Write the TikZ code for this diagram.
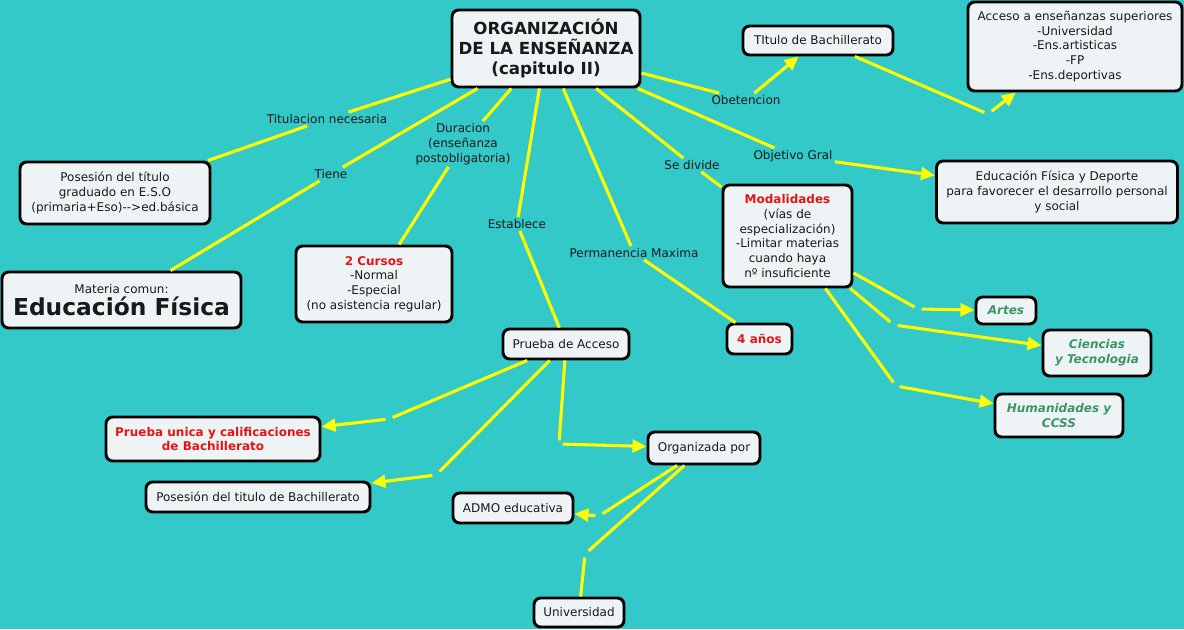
\documentclass[tikz,border=0pt]{standalone}
\usepackage{fontspec}
\setmainfont{DejaVu Sans}
\usetikzlibrary{arrows.meta}
\definecolor{bg}{RGB}{51,201,201}
\definecolor{boxfill}{RGB}{238,244,245}
\definecolor{lnk}{RGB}{255,255,0}
\definecolor{redt}{RGB}{228,20,20}
\definecolor{greent}{RGB}{58,150,100}
\definecolor{txt}{RGB}{25,25,25}
\begin{document}
\begin{tikzpicture}[x=0.75pt,y=-0.75pt,
 box/.style={draw=black, line width=2.2pt, rounded corners=5pt, fill=boxfill, align=center, inner sep=0pt, text=txt, font=\fontsize{9}{11.1}\selectfont},
 wh/.style 2 args={minimum width=#1*0.75pt, minimum height=#2*0.75pt},
 lbl/.style={align=center, inner sep=1.5pt, text=txt, font=\fontsize{9}{11.1}\selectfont},
 jn/.style={inner sep=0pt, minimum size=5pt},
 con/.style={draw=lnk, line width=2.3pt},
 arr/.style={con, -{Triangle[length=10.5pt,width=9.5pt]}},
]
\fill[bg] (0,0) rectangle (1184,629);
\useasboundingbox (0,0) rectangle (1184,629);

% boxes
\node[box, wh={188}{77}, font=\fontsize{12.5}{15}\selectfont\bfseries] (main) at (546,48.5) {ORGANIZACIÓN\\DE LA ENSEÑANZA\\(capitulo II)};
\node[box, wh={150}{29}] (tit) at (818,40.5) {TItulo de Bachillerato};
\node[box, wh={214}{89}] (acc) at (1075,46.5) {Acceso a enseñanzas superiores\\-Universidad\\-Ens.artisticas\\-FP\\-Ens.deportivas};
\node[box, wh={241}{62}] (ef) at (1057,192) {Educación Física y Deporte\\para favorecer el desarrollo personal\\y social};
\node[box, wh={190}{62}] (pos) at (115,193) {Posesión del título\\graduado en E.S.O\\(primaria+Eso){-}{-}>ed.básica};
\node[box, wh={239}{56}] (mat) at (121.5,300) {Materia comun:\\[1.5pt]{\fontsize{17.5}{19}\selectfont\bfseries Educación Física}};
\node[box, wh={156}{76}] (cur) at (374,284) {\textcolor{redt}{\bfseries 2 Cursos}\\-Normal\\-Especial\\(no asistencia regular)};
\node[box, wh={129}{102}] (mod) at (787.5,236) {\textcolor{redt}{\bfseries Modalidades}\\(vías de\\especialización)\\-Limitar materias\\cuando haya\\nº insuficiente};
\node[box, wh={126}{30}] (pru) at (566,344) {Prueba de Acceso};
\node[box, wh={65}{30}] (anos) at (759.5,339) {\textcolor{redt}{\bfseries 4 años}};
\node[box, wh={60}{27}] (artes) at (1006,310.5) {\textcolor{greent}{\bfseries\itshape Artes}};
\node[box, wh={108}{46}] (cien) at (1097,353) {\textcolor{greent}{\bfseries\itshape Ciencias}\\\textcolor{greent}{\bfseries\itshape y Tecnologia}};
\node[box, wh={128}{43}] (hum) at (1059,415.5) {\textcolor{greent}{\bfseries\itshape Humanidades y}\\\textcolor{greent}{\bfseries\itshape CCSS}};
\node[box, wh={214}{44}] (pun) at (213,439) {\textcolor{redt}{\bfseries Prueba unica y calificaciones}\\\textcolor{redt}{\bfseries de Bachillerato}};
\node[box, wh={224}{30}] (pbach) at (258,497) {Posesión del titulo de Bachillerato};
\node[box, wh={120}{30}] (admo) at (513,508) {ADMO educativa};
\node[box, wh={112}{32}] (org) at (704,448) {Organizada por};
\node[box, wh={90}{29}] (univ) at (579,612.5) {Universidad};

% linking labels
\node[lbl] (ltit) at (327,119) {Titulacion necesaria};
\node[lbl] (ltie) at (331,174) {Tiene};
\node[lbl] (ldur) at (463,144) {Duracion\\(enseñanza\\postobligatoria)};
\node[lbl] (lest) at (517,224) {Establece};
\node[lbl] (lper) at (634,253) {Permanencia Maxima};
\node[lbl] (ldiv) at (692,165) {Se divide};
\node[lbl] (lobt) at (746,100) {Obetencion};
\node[lbl] (lobj) at (793,156) {Objetivo Gral};

% junctions
\node[jn] (j1) at (988,114) {};
\node[jn] (ja) at (918,309) {};
\node[jn] (jc) at (894,325) {};
\node[jn] (jh) at (896,386) {};
\node[jn] (jp1) at (389,419) {};
\node[jn] (jp2) at (436,475) {};
\node[jn] (jp3) at (559,444) {};
\node[jn] (jo1) at (599,516) {};
\node[jn] (jo2) at (585,554) {};

% connectors
\draw[con] (main) -- (ltit);
\draw[con] (ltit) -- (pos);
\draw[con] (main) -- (ltie);
\draw[con] (ltie) -- (mat);
\draw[con] (main) -- (ldur);
\draw[con] (ldur) -- (cur);
\draw[con] (main) -- (lest);
\draw[con] (lest) -- (pru);
\draw[con] (main) -- (lper);
\draw[con] (lper) -- (anos);
\draw[con] (main) -- (ldiv);
\draw[con] (ldiv) -- (mod);
\draw[con] (main) -- (lobt);
\draw[arr] (lobt) -- (tit);
\draw[con] (main) -- (lobj);
\draw[arr] (lobj) -- (ef);
\draw[con] (tit) -- (j1);
\draw[arr] (j1) -- (acc);
\draw[con] (mod) -- (ja);
\draw[arr] (ja) -- (artes);
\draw[con] (mod) -- (jc);
\draw[arr] (jc) -- (cien);
\draw[con] (mod) -- (jh);
\draw[arr] (jh) -- (hum);
\draw[con] (pru) -- (jp1);
\draw[arr] (jp1) -- (pun);
\draw[con] (pru) -- (jp2);
\draw[arr] (jp2) -- (pbach);
\draw[con] (pru) -- (jp3);
\draw[arr] (jp3) -- (org);
\draw[con] (org) -- (jo1);
\draw[arr] (jo1) -- (admo);
\draw[con] (org) -- (jo2);
\draw[con] (jo2) -- (univ);
\end{tikzpicture}
\end{document}
